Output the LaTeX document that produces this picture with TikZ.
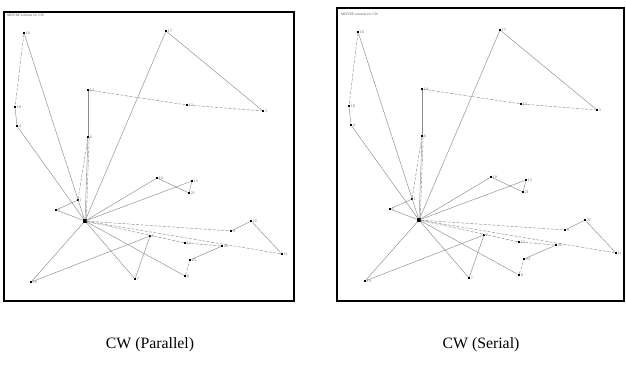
\documentclass[tikz,border=0pt]{standalone}
\usepackage{fontspec}
\setmainfont{Liberation Serif}

\tikzset{
  panel/.style={draw=black, line width=1.6pt},
  route/.style={draw=black!45, line width=0.45pt},
  back/.style={route, dash pattern=on 3pt off 1.5pt},
  cust/.style={fill=black, inner sep=0pt, minimum size=2.2pt},
  depot/.style={fill=black, inner sep=0pt, minimum size=3.2pt},
  num/.style={font=\fontsize{4}{4}\selectfont, text=black!60, inner sep=0.4pt},
  caption/.style={font=\fontsize{15.8}{18}\selectfont},
}

\newcommand{\cwplot}{%
  \node[font=\fontsize{3.6}{4}\selectfont, text=black!65, anchor=west, inner sep=0pt] (title) at (7,15) {MDVRP solution for CW};
  \node[depot] (d) at (85,221) {};
  \foreach \x/\y/\n in {24/33/16, 15/107/18, 17/126/4, 88/90/14, 88/137/6,
      187/105/13, 263/111/3, 166/31/17, 78/200/1, 56/210/5, 31/282/19,
      135/279/7, 150/236/2, 157/178/10, 192/181/15, 189/193/21, 251/221/22,
      231/231/9, 282/254/11, 222/246/20, 185/243/12, 190/260/23, 185/276/8}
    \node[cust, label={[num]right:\n}] (c\n) at (\x,\y) {};
  % solid legs
  \foreach \a/\b in {d/c16, c18/c4, c4/d, d/c6, c6/c14, c3/c17, c17/d,
      c1/c5, c5/d, d/c10, c10/c21, c21/c15, c15/d, c9/c22, c22/c11,
      d/c19, c19/c2, c2/c7, c7/d, d/c8, c23/c20}
    \draw[route] (\a) -- (\b);
  % dashed legs
  \foreach \a/\b in {c16/c18, c14/c13, c13/c3, c6/c1, d/c9, c11/d,
      c8/c23, c20/c12, c12/d}
    \draw[back] (\a) -- (\b);
  \draw[back] ([xshift=1.2pt]d.center) -- ([xshift=1.2pt]c6.center);
}

\begin{document}
\begin{tikzpicture}[x=1pt, y=-1pt]
  \useasboundingbox (0,0) rectangle (626,364);
  \fill[white] (0,0) rectangle (626,364);

  \draw[panel] (4,12) rectangle (294,301);
  \draw[panel] (337,8) rectangle (624,301);

  \begin{scope}[name prefix=par-]
    \cwplot
  \end{scope}
  \begin{scope}[name prefix=ser-, shift={(334,-1)}]
    \cwplot
  \end{scope}

  \node[caption] (cappar) at (150,345) {CW (Parallel)};
  \node[caption] (capser) at (481,345) {CW (Serial)};
\end{tikzpicture}
\end{document}
